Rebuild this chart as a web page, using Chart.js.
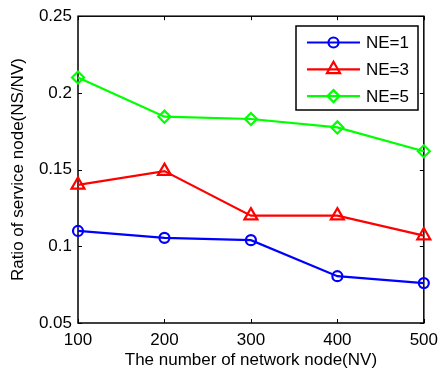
<!DOCTYPE html>
<html>
<head>
<meta charset="utf-8">
<script src="https://cdn.jsdelivr.net/npm/chart.js@4/dist/chart.umd.min.js"></script>
<style>
  html, body { margin: 0; padding: 0; background: #fff; }
  #myChart { display: block; }
</style>
</head>
<body>
<canvas id="myChart" width="445" height="372"></canvas>
<script>
const nodes = [100, 200, 300, 400, 500];
const ne1 = [0.110, 0.1055, 0.104, 0.0805, 0.076];
const ne3 = [0.140, 0.149, 0.120, 0.120, 0.107];
const ne5 = [0.210, 0.1845, 0.183, 0.1775, 0.162];
const seriesNames = ['NE=1', 'NE=3', 'NE=5'];
const yTicks = [0.05, 0.1, 0.15, 0.2, 0.25];

const FONT = "'Liberation Sans', Arial, sans-serif";

function makeSet(label, values, color, style, radius) {
    return {
        label: label,
        data: nodes.map((x, i) => ({ x: x, y: values[i] })),
        borderColor: color,
        backgroundColor: 'rgba(0,0,0,0)',
        borderWidth: 2.2,
        pointStyle: style,
        pointRadius: radius,
        pointBorderWidth: 2.2,
        pointBorderColor: color,
        pointBackgroundColor: 'rgba(0,0,0,0)',
        tension: 0,
        clip: false
    };
}

// box around the plot with inward ticks on all four sides (matlab look)
const frame = {
    id: 'frame',
    beforeDatasetsDraw(chart) {
        const { ctx, chartArea: a, scales: { x, y } } = chart;
        const tl = 4;
        ctx.save();
        ctx.strokeStyle = '#000';
        ctx.lineWidth = 1.5;
        ctx.strokeRect(a.left, a.top, a.right - a.left, a.bottom - a.top);
        ctx.lineWidth = 1;
        ctx.beginPath();
        nodes.forEach(v => {
            const px = Math.round(x.getPixelForValue(v)) + 0.5;
            ctx.moveTo(px, a.bottom); ctx.lineTo(px, a.bottom - tl);
            ctx.moveTo(px, a.top); ctx.lineTo(px, a.top + tl);
        });
        yTicks.forEach(v => {
            const py = Math.round(y.getPixelForValue(v)) + 0.5;
            ctx.moveTo(a.left, py); ctx.lineTo(a.left + tl, py);
            ctx.moveTo(a.right, py); ctx.lineTo(a.right - tl, py);
        });
        ctx.stroke();
        ctx.restore();
    }
};

function drawMarker(ctx, style, r, x, y) {
    ctx.beginPath();
    if (style === 'circle') {
        ctx.arc(x, y, r, 0, Math.PI * 2);
    } else if (style === 'triangle') {
        ctx.moveTo(x, y - r);
        ctx.lineTo(x + r * Math.sin(2 * Math.PI / 3), y + r / 2);
        ctx.lineTo(x - r * Math.sin(2 * Math.PI / 3), y + r / 2);
        ctx.closePath();
    } else {
        ctx.moveTo(x - r, y); ctx.lineTo(x, y - r);
        ctx.lineTo(x + r, y); ctx.lineTo(x, y + r);
        ctx.closePath();
    }
    ctx.stroke();
}

// boxed legend in the top right corner
const boxLegend = {
    id: 'boxLegend',
    afterDraw(chart) {
        const ctx = chart.ctx;
        const bx = 296, by = 26, bw = 122, bh = 84;
        ctx.save();
        ctx.fillStyle = '#fff';
        ctx.fillRect(bx, by, bw, bh);
        ctx.strokeStyle = '#000';
        ctx.lineWidth = 1.5;
        ctx.strokeRect(bx, by, bw, bh);
        chart.data.datasets.forEach((ds, i) => {
            const ry = by + 16.5 + i * 26.8;
            ctx.strokeStyle = ds.borderColor;
            ctx.lineWidth = 2.2;
            ctx.beginPath();
            ctx.moveTo(307, ry); ctx.lineTo(360, ry);
            ctx.stroke();
            drawMarker(ctx, ds.pointStyle, ds.pointRadius, 333.5, ry);
            ctx.fillStyle = '#000';
            ctx.font = '17px ' + FONT;
            ctx.textAlign = 'left';
            ctx.textBaseline = 'middle';
            ctx.fillText(ds.label, 366, ry + 1);
        });
        ctx.restore();
    }
};

const config = {
    type: 'line',
    data: {
        datasets: [
            makeSet(seriesNames[0], ne1, '#0000ff', 'circle', 5),
            makeSet(seriesNames[1], ne3, '#ff0000', 'triangle', 7.5),
            makeSet(seriesNames[2], ne5, '#00ff00', 'rectRot', 6)
        ]
    },
    options: {
        responsive: false,
        animation: false,
        devicePixelRatio: 1,
        layout: { padding: { left: 0, right: 16, top: 16, bottom: 0 } },
        plugins: {
            legend: { display: false },
            tooltip: { enabled: false }
        },
        scales: {
            x: {
                type: 'linear',
                min: 100,
                max: 500,
                afterBuildTicks: s => { s.ticks = nodes.map(v => ({ value: v })); },
                afterFit: s => { s.height = 49; },
                grid: { display: false, drawTicks: false },
                border: { display: false },
                ticks: {
                    color: '#000',
                    padding: 7,
                    font: { family: FONT, size: 17 },
                    maxRotation: 0,
                    callback: v => String(v)
                },
                title: {
                    display: true,
                    text: 'The number of network node(NV)',
                    color: '#000',
                    font: { family: FONT, size: 17 },
                    padding: { top: 0, bottom: 1 }
                }
            },
            y: {
                type: 'linear',
                min: 0.05,
                max: 0.25,
                afterBuildTicks: s => { s.ticks = yTicks.map(v => ({ value: v })); },
                afterFit: s => { s.width = 78; },
                grid: { display: false, drawTicks: false },
                border: { display: false },
                ticks: {
                    color: '#000',
                    padding: 6,
                    font: { family: FONT, size: 17 },
                    callback: v => String(+v.toFixed(2))
                },
                title: {
                    display: true,
                    text: 'Ratio of service node(NS/NV)',
                    color: '#000',
                    font: { family: FONT, size: 17 },
                    padding: { top: 8, bottom: 0 }
                }
            }
        }
    },
    plugins: [frame, boxLegend]
};

const myChart = new Chart(document.getElementById('myChart'), config);
</script>
</body>
</html>
